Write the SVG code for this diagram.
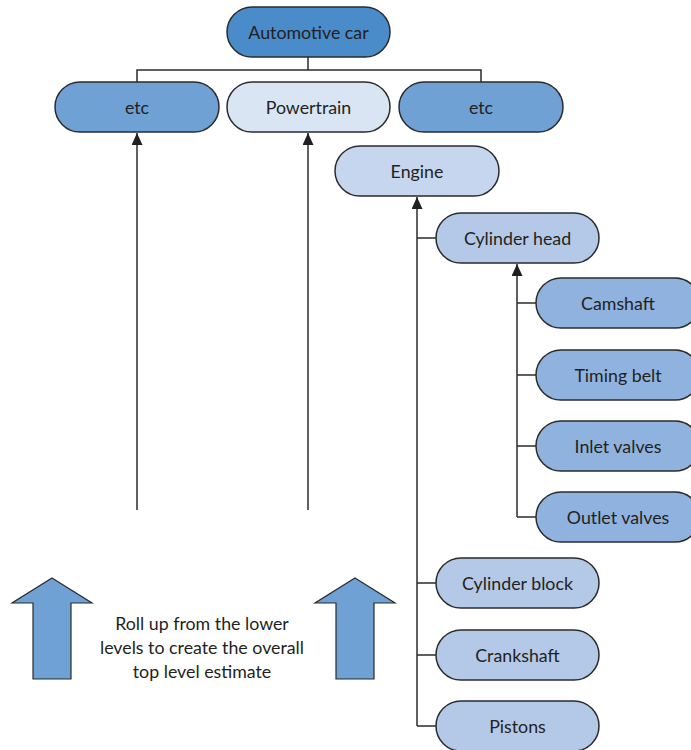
<svg xmlns="http://www.w3.org/2000/svg" width="691" height="750" viewBox="0 0 691 750">
<defs>
<style>
.n{stroke:#2b2b2b;stroke-width:1.5}
.t{font-family:Lato,"Open Sans","Liberation Sans",sans-serif;font-size:17.8px;fill:#231f20;text-anchor:middle;dominant-baseline:central}
.c{fill:none;stroke:#2b2b2b;stroke-width:1.5}
.l1{fill:#4a8bc9}.l2{fill:#6fa1d5}.pw{fill:#dae5f3}.en{fill:#c5d6ee}.ch{fill:#b4c9e7}.lv{fill:#90b2de}
.ba{fill:#6fa1d5;stroke:#2b2b2b;stroke-width:1.2}
</style>
<marker id="ah" markerWidth="12" markerHeight="12" refX="12" refY="5.5" orient="auto" markerUnits="userSpaceOnUse">
<path d="M0,0 L12,5.5 L0,11 Z" fill="#231f20"/>
</marker>
</defs>
<rect width="691" height="750" fill="#fff"/>
<g id="connectors">
<path class="c" d="M308,57 V70 M137,82 V70 H481 V82"/>
<line class="c" x1="137" y1="510" x2="137" y2="133" marker-end="url(#ah)"/>
<line class="c" x1="308" y1="510" x2="308" y2="133" marker-end="url(#ah)"/>
<line class="c" x1="417" y1="726" x2="417" y2="197" marker-end="url(#ah)"/>
<path class="c" d="M417,238 H436 M417,583 H436 M417,655 H436 M417,726 H436"/>
<line class="c" x1="517" y1="517" x2="517" y2="264" marker-end="url(#ah)"/>
<path class="c" d="M517,303 H536 M517,375 H536 M517,446 H536 M517,517 H536"/>
</g>
<g id="automotive-car"><rect class="n l1" x="227" y="7" width="163" height="50" rx="25"/><text class="t" x="308.5" y="32">Automotive car</text></g>
<g id="etc-left"><rect class="n l2" x="55" y="82" width="164" height="50" rx="25"/><text class="t" x="137" y="107">etc</text></g>
<g id="powertrain"><rect class="n pw" x="227" y="82" width="163" height="50" rx="25"/><text class="t" x="308.5" y="107">Powertrain</text></g>
<g id="etc-right"><rect class="n l2" x="399" y="82" width="164" height="50" rx="25"/><text class="t" x="481" y="107">etc</text></g>
<g id="engine"><rect class="n en" x="335" y="146" width="164" height="50" rx="25"/><text class="t" x="417" y="171">Engine</text></g>
<g id="cylinder-head"><rect class="n ch" x="436" y="213" width="163" height="50" rx="25"/><text class="t" x="517.5" y="238">Cylinder head</text></g>
<g id="camshaft"><rect class="n lv" x="536" y="278" width="164" height="50" rx="25"/><text class="t" x="618" y="303">Camshaft</text></g>
<g id="timing-belt"><rect class="n lv" x="536" y="350" width="164" height="50" rx="25"/><text class="t" x="618" y="375">Timing belt</text></g>
<g id="inlet-valves"><rect class="n lv" x="536" y="421" width="164" height="50" rx="25"/><text class="t" x="618" y="446">Inlet valves</text></g>
<g id="outlet-valves"><rect class="n lv" x="536" y="492" width="164" height="50" rx="25"/><text class="t" x="618" y="517">Outlet valves</text></g>
<g id="cylinder-block"><rect class="n ch" x="436" y="558" width="163" height="50" rx="25"/><text class="t" x="517.5" y="583">Cylinder block</text></g>
<g id="crankshaft"><rect class="n ch" x="436" y="630" width="163" height="50" rx="25"/><text class="t" x="517.5" y="655">Crankshaft</text></g>
<g id="pistons"><rect class="n ch" x="436" y="701" width="163" height="50" rx="25"/><text class="t" x="517.5" y="726">Pistons</text></g>
<g id="roll-up-note">
<path class="ba" d="M52,578 L92,603 H71 V679 H33 V603 H12 Z"/>
<path class="ba" d="M355,578 L395,603 H374 V679 H336 V603 H315 Z"/>
<text class="t" x="202" y="623">Roll up from the lower</text>
<text class="t" x="202" y="647">levels to create the overall</text>
<text class="t" x="202" y="671">top level estimate</text>
</g>
</svg>
